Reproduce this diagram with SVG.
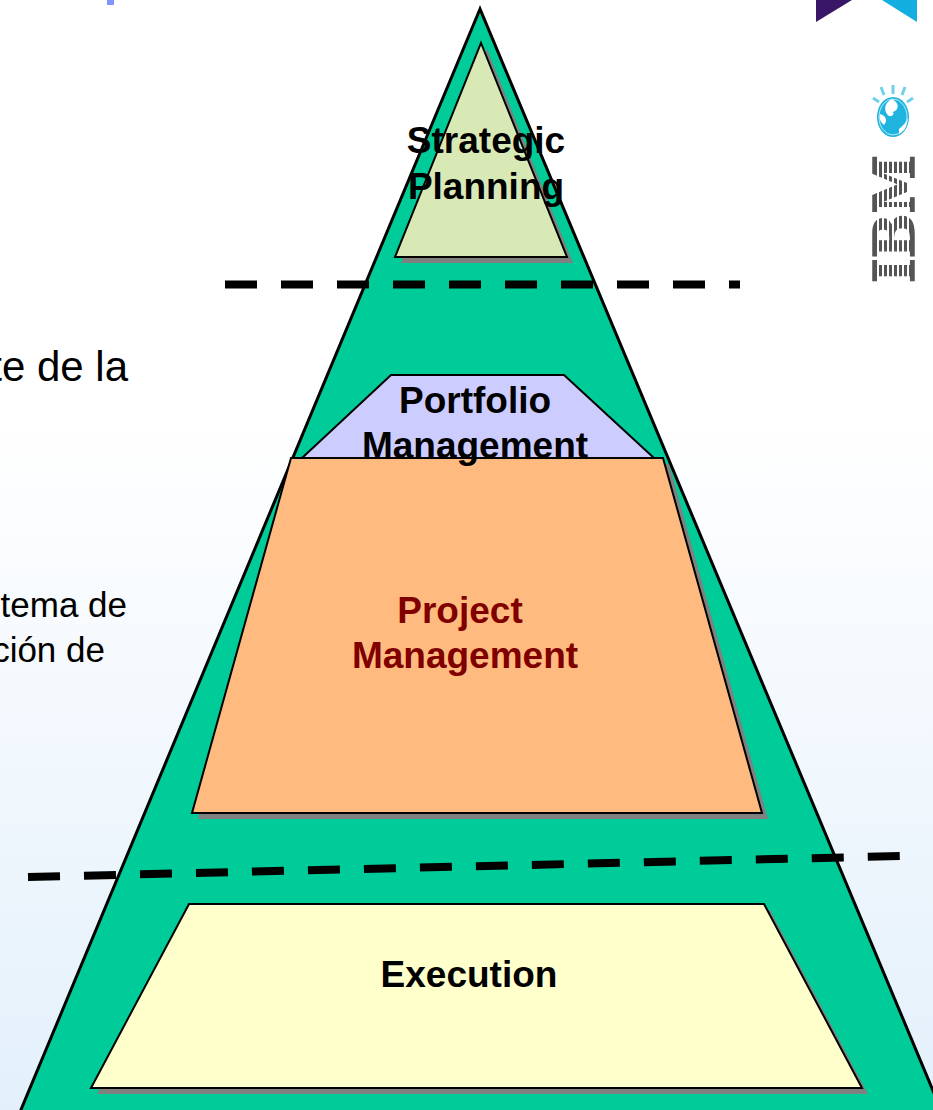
<svg xmlns="http://www.w3.org/2000/svg" width="933" height="1110" viewBox="0 0 933 1110">
<style>
.lbl{font-family:"Liberation Sans",Arial,sans-serif;font-weight:bold;font-size:37px;fill:#000;text-anchor:middle}
.body{font-family:"Liberation Sans",Arial,sans-serif;fill:#000;text-anchor:end}
.s{fill:#808080}
.e{stroke:#000;stroke-width:2;stroke-linejoin:miter}
.dash{fill:none;stroke:#000;stroke-width:8;stroke-dasharray:32 24}
</style>
<defs>
<linearGradient id="bg" x1="0" y1="0" x2="0" y2="1">
<stop offset="0.38" stop-color="#fff"/>
<stop offset="1" stop-color="#e3f0fb"/>
</linearGradient>
</defs>
<rect width="933" height="1110" fill="url(#bg)"/>
<rect x="107" y="0" width="7" height="5" fill="#8095ff"/>
<g id="logo-top">
<polygon points="816,0 852,0 816,22" fill="#3a1668"/>
<polygon points="882,0 917,0 917,22" fill="#13aee0"/>
</g>
<g id="logo-ibm">
<g stroke="#6fd0ea" stroke-width="3" fill="none">
<line x1="873" y1="98" x2="879" y2="102"/>
<line x1="881" y1="87" x2="884" y2="95"/>
<line x1="893" y1="85" x2="893" y2="94"/>
<line x1="905" y1="87" x2="902" y2="95"/>
<line x1="913" y1="98" x2="907" y2="102"/>
</g>
<ellipse cx="893" cy="117" rx="16" ry="20" fill="#1fb4df"/>
<ellipse cx="893" cy="117" rx="14" ry="18" fill="none" stroke="#bfeaf6" stroke-width="1"/>
<path d="M892,99 C900,103 899,110 893,112 C895,116 889,118 887,114 C884,110 884,103 892,99Z M880,114 C886,116 888,120 884,125 C880,122 879,118 880,114Z M899,129 C903,126 906,122 908,118 C907,126 905,131 899,134Z" fill="#fff"/>
<text transform="translate(914,283) rotate(-90)" font-family="'DejaVu Serif',serif" font-weight="bold" font-size="56" fill="#555" stroke="#555" stroke-width="1.5" textLength="128" lengthAdjust="spacingAndGlyphs">IBM</text>
<g fill="#fff">
<rect x="877" y="150" width="2" height="135"/>
<rect x="882" y="150" width="2" height="135"/>
<rect x="887" y="150" width="2" height="135"/>
<rect x="892" y="150" width="2" height="135"/>
<rect x="897" y="150" width="2" height="135"/>
<rect x="902" y="150" width="2" height="135"/>
<rect x="907" y="150" width="2" height="135"/>
</g>
</g>
<g id="body-text">
<text class="body" x="128" y="381" font-size="42">te de la</text>
<text class="body" x="127" y="617" font-size="35">tema de</text>
<text class="body" x="105" y="662" font-size="35">ción de</text>
</g>
<g id="pyramid">
<polygon points="480,9 20,1112 942,1112" fill="#00cc99" stroke="#000" stroke-width="3"/>
</g>
<g id="strategic-planning">
<polygon class="s" points="487,49 573,263 401,263"/>
<polygon class="e" points="481,43 567,257 395,257" fill="#d9e9b6"/>
</g>
<g id="portfolio-management">
<polygon class="e" points="391,375 564,375 654,458 302,458" fill="#ccccff"/>
</g>
<g id="project-management">
<polygon class="s" points="297,464 669,464 768,819 198,819"/>
<polygon class="e" points="291,458 663,458 762,813 192,813" fill="#ffbb7f"/>
</g>
<g id="execution">
<polygon class="s" points="195,910 770,910 868,1094 97,1094"/>
<polygon class="e" points="189,904 764,904 862,1088 91,1088" fill="#ffffcc"/>
</g>
<g id="connectors">
<line class="dash" x1="225" y1="284.5" x2="740" y2="284.5"/>
<line class="dash" x1="28" y1="877" x2="902" y2="856"/>
</g>
<g id="labels">
<text class="lbl" x="486" y="153">Strategic</text>
<text class="lbl" x="486" y="199">Planning</text>
<text class="lbl" x="475" y="413">Portfolio</text>
<text class="lbl" x="475" y="458">Management</text>
<text class="lbl" x="460" y="623" style="fill:#800000">Project</text>
<text class="lbl" x="465" y="668" style="fill:#800000">Management</text>
<text class="lbl" x="469" y="987">Execution</text>
</g>
</svg>
